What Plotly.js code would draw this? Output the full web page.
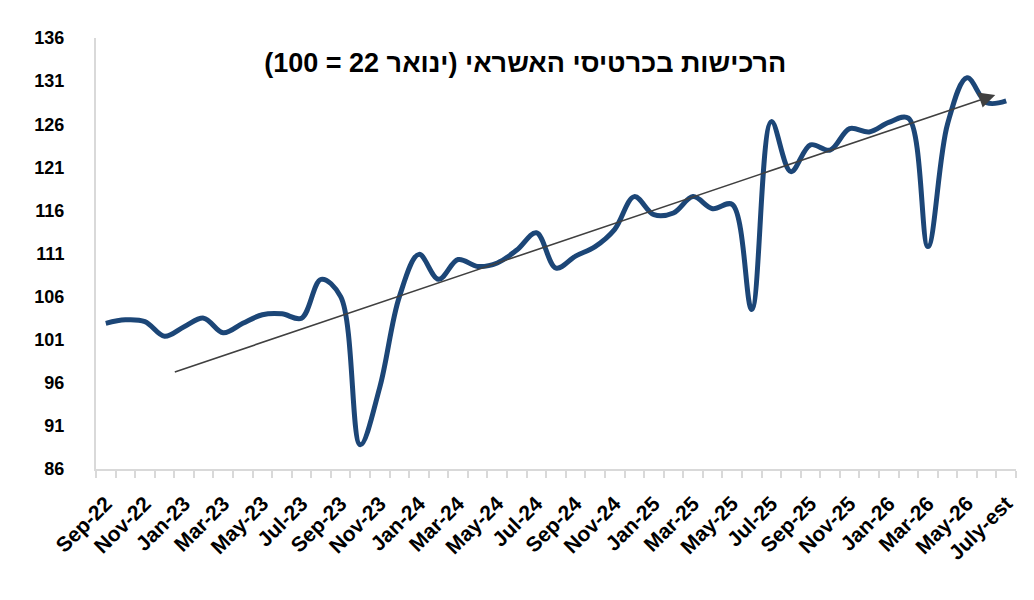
<!DOCTYPE html>
<html>
<head>
<meta charset="utf-8">
<script src="https://cdn.plot.ly/plotly-3.0.1.min.js"></script>
<style>
    body { margin: 0; background: #fff; }
    #grafica { width: 1034px; height: 600px; }
</style>
</head>
<body>
<div id="grafica"></div>
<script>
// monthly index, Jan-22 = 100
var months = ["Sep-22","Oct-22","Nov-22","Dec-22","Jan-23","Feb-23","Mar-23","Apr-23","May-23","Jun-23","Jul-23","Aug-23",
    "Sep-23","Oct-23","Nov-23","Dec-23","Jan-24","Feb-24","Mar-24","Apr-24","May-24","Jun-24","Jul-24","Aug-24",
    "Sep-24","Oct-24","Nov-24","Dec-24","Jan-25","Feb-25","Mar-25","Apr-25","May-25","Jun-25","Jul-25","Aug-25",
    "Sep-25","Oct-25","Nov-25","Dec-25","Jan-26","Feb-26","Mar-26","Apr-26","May-26","Jun-26","July-est"];

var purchases = [102.9,103.3,103.1,101.4,102.5,103.5,101.8,102.9,103.9,104.0,103.5,108.0,
    106.0,88.8,95.5,106.0,110.9,108.0,110.3,109.5,109.9,111.4,113.4,109.3,
    110.7,111.8,113.8,117.6,115.5,115.7,117.6,116.2,116.7,104.5,126.3,120.5,
    123.6,123.0,125.5,125.1,126.2,126.7,111.8,126.0,131.4,128.5,128.7];

// every second month gets a label
var tickLabels = ["Sep-22","","Nov-22","","Jan-23","","Mar-23","","May-23","","Jul-23","",
    "Sep-23","","Nov-23","","Jan-24","","Mar-24","","May-24","","Jul-24","",
    "Sep-24","","Nov-24","","Jan-25","","Mar-25","","May-25","","Jul-25","",
    "Sep-25","","Nov-25","","Jan-26","","Mar-26","","May-26","","July-est"];

var yTicks = [86, 91, 96, 101, 106, 111, 116, 121, 126, 131, 136];

// trend arrow (category index, value)
var trendFrom = [3.45, 97.2];
var trendTo = [45.44, 129.4];

var chartTitle = "הרכישות בכרטיסי האשראי (ינואר 22 = 100)";

window.addEventListener("DOMContentLoaded", ()=>{
    var fontFam = "'Liberation Sans', Arial, sans-serif";

    var data = [{
        x: months,
        y: purchases,
        type: 'scatter',
        mode: 'lines',
        line: { color: '#1c4677', width: 5, shape: 'spline', smoothing: 1 },
        hoverinfo: 'x+y'
    }];

    var layout = {
        width: 1034,
        height: 600,
        margin: { l: 96, r: 18, t: 38, b: 131 },
        paper_bgcolor: '#fff',
        plot_bgcolor: '#fff',
        showlegend: false,
        title: {
            text: '\u202B' + chartTitle + '\u202C',
            font: { family: fontFam, size: 27, color: '#000', weight: 'bold' },
            xref: 'container', yref: 'container',
            x: 0.508, y: 0.895,
            xanchor: 'center', yanchor: 'middle'
        },
        xaxis: {
            type: 'category',
            range: [-0.5, months.length - 0.5],
            tickmode: 'array',
            tickvals: months,
            ticktext: tickLabels,
            tickson: 'boundaries',
            ticks: 'outside',
            ticklen: 7,
            tickwidth: 2,
            tickcolor: '#d9d9d9',
            ticklabelstandoff: 12,
            showline: true,
            linecolor: '#d9d9d9',
            linewidth: 2,
            showgrid: false,
            zeroline: false,
            tickangle: -45,
            tickfont: { family: fontFam, size: 21, color: '#000', weight: 'bold' }
        },
        yaxis: {
            range: [86, 136],
            tickmode: 'array',
            tickvals: yTicks,
            ticks: '',
            ticklabelstandoff: 26,
            showline: true,
            linecolor: '#d9d9d9',
            linewidth: 2,
            showgrid: false,
            zeroline: false,
            tickfont: { family: fontFam, size: 18, color: '#000', weight: 'bold' }
        },
        annotations: [{
            xref: 'x', yref: 'y', axref: 'x', ayref: 'y',
            x: trendTo[0], y: trendTo[1],
            ax: trendFrom[0], ay: trendFrom[1],
            text: '',
            showarrow: true,
            arrowhead: 2,
            arrowsize: 2,
            arrowwidth: 1.6,
            arrowcolor: '#404040',
            standoff: 0
        }]
    };

    Plotly.newPlot('grafica', data, layout, { displayModeBar: false });
});
</script>
</body>
</html>
